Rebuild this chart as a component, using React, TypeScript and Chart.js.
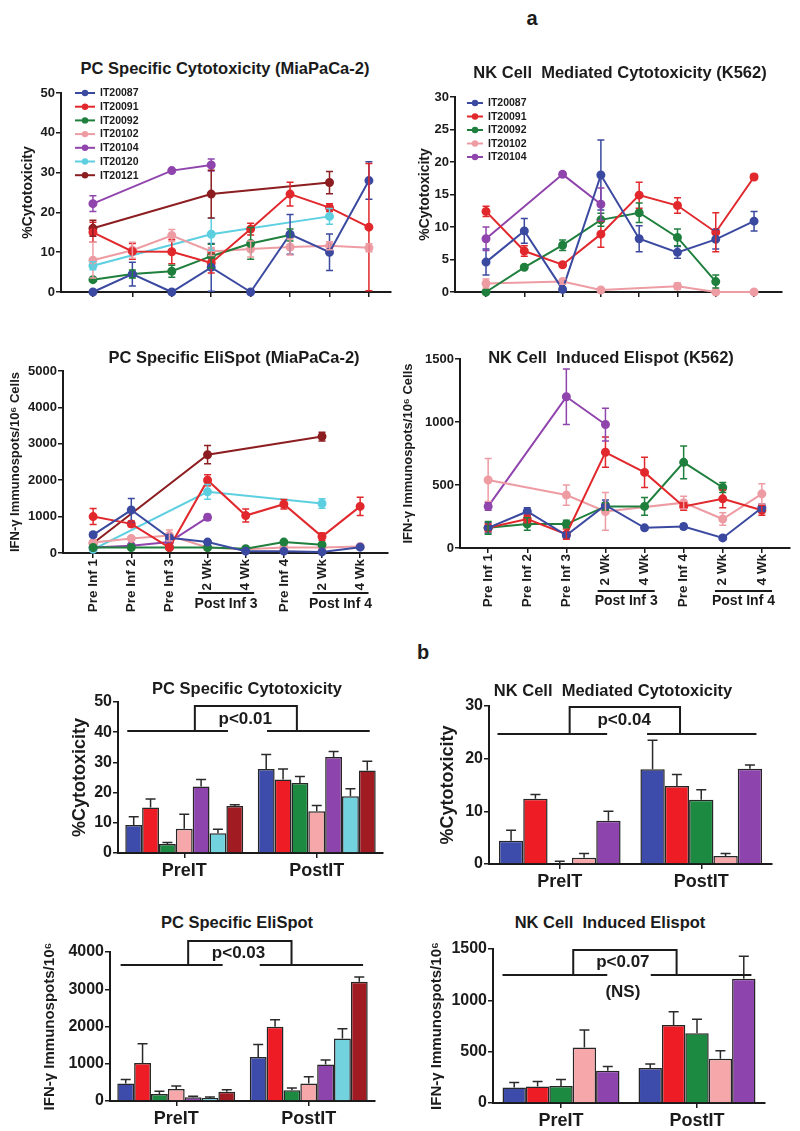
import React, { useEffect, useRef } from 'react';
import { Chart, registerables } from 'chart.js';

Chart.register(...registerables);

const FONT = '"Liberation Sans", Arial, Helvetica, sans-serif';
const INK = '#1b1b1b';

// ---------- categories ----------
const PATIENTS = ['IT20087', 'IT20091', 'IT20092', 'IT20102', 'IT20104', 'IT20120', 'IT20121'];
const LINE_COLORS = ['#3b4aa0', '#e1282c', '#1f7f3d', '#ee9ca3', '#9045ad', '#5ccfe0', '#8c1d20'];
const BAR_COLORS = ['#3d4caa', '#ee1c25', '#1c8a40', '#f5a7aa', '#8e44ad', '#72d3df', '#a11c22'];
const TIME_LABELS = ['Pre Inf 1', 'Pre Inf 2', 'Pre Inf 3', '2 Wk', '4 Wk', 'Pre Inf 4', '2 Wk', '4 Wk'];
const POST_GROUPS = ['Post Inf 3', 'Post Inf 4'];
const GROUPS = ['PreIT', 'PostIT'];

// ---------- (a) PC specific cytotoxicity (MiaPaCa-2), one row per patient ----------
const PC_CYTO_VALUES: (number | null)[][] = [
  [0, 4.5, 0, 6.2, 0, 14.5, 10, 28],
  [15, 10.2, 10.1, 7.3, 15.8, 24.6, 21.2, 16.3],
  [3.1, 4.5, 5.2, 9, 12.2, 14.3, null, null],
  [8, 10.5, 14.2, 10.2, 10.8, 11.3, 11.6, 11.1],
  [22.2, null, 30.5, 31.9, null, null, null, null],
  [6.6, null, null, 14.5, null, null, 19, null],
  [16, null, null, 24.6, null, null, 27.5, null],
];
const PC_CYTO_ERRORS: number[][] = [
  [0, 3, 0, 6, 0, 5, 4.6, 4.7],
  [2.5, 2, 3, 2.5, 1.5, 3, 1, 16],
  [0.3, 1, 1.5, 3, 4, 1.5, 0, 0],
  [4.5, 2, 1.5, 1, 2, 2, 1, 1],
  [2, 0, 0.3, 1.5, 0, 0, 0, 0],
  [1, 0, 0, 4, 0, 0, 2, 0],
  [2, 0, 0, 6, 0, 0, 2.8, 0],
];

// ---------- (a) NK cell mediated cytotoxicity (K562) ----------
const NK_CYTO_VALUES: (number | null)[][] = [
  [4.6, 9.4, 0.4, 18, 8.2, 6.1, 8.1, 10.9],
  [12.4, 6.3, 4.2, 8.9, 14.9, 13.3, 9.2, 17.7],
  [0, 3.8, 7.2, 11.1, 12.2, 8.4, 1.6, null],
  [1.3, null, 1.6, 0.3, null, 0.9, 0, 0],
  [8.2, null, 18.1, 13.5, null, null, null, null],
];
const NK_CYTO_ERRORS: number[][] = [
  [2, 1.9, 0.3, 5.4, 2, 0.9, 1.5, 1.5],
  [0.8, 0.8, 0.3, 2, 2, 1.2, 3, 0.4],
  [0, 0.3, 0.8, 1, 1.5, 1.3, 1, 0],
  [0.7, 0, 0.4, 0.2, 0, 0.5, 0, 0],
  [1.8, 0, 0.4, 2.5, 0, 0, 0, 0],
];

// ---------- (a) PC specific EliSpot (MiaPaCa-2) ----------
const PC_ELI_VALUES: (number | null)[][] = [
  [500, 1180, 420, 300, 50, 50, 30, 160],
  [1000, 800, 150, 2000, 1030, 1340, 450, 1280],
  [150, 150, 150, 150, 120, 300, 230, null],
  [290, 400, 480, 150, 100, 150, 150, 180],
  [150, 200, 300, 980, null, null, null, null],
  [100, null, null, 1680, null, null, 1360, null],
  [270, null, null, 2700, null, null, 3200, null],
];
const PC_ELI_ERRORS: number[][] = [
  [60, 320, 40, 40, 0, 0, 0, 0],
  [220, 80, 30, 150, 180, 130, 100, 250],
  [0, 0, 0, 0, 0, 30, 30, 0],
  [0, 0, 150, 0, 0, 0, 0, 0],
  [0, 0, 0, 80, 0, 0, 0, 0],
  [0, 0, 0, 200, 0, 0, 130, 0],
  [0, 0, 0, 250, 0, 0, 120, 0],
];

// ---------- (a) NK cell induced Elispot (K562) ----------
const NK_ELI_VALUES: (number | null)[][] = [
  [160, 290, 100, 340, 160, 170, 80, 320],
  [160, 230, 110, 760, 600, 330, 390, 300],
  [160, 190, 190, 330, 330, 680, 480, null],
  [540, null, 420, 290, null, 360, 230, 430],
  [330, null, 1200, 980, null, null, null, null],
];
const NK_ELI_ERRORS: number[][] = [
  [40, 30, 20, 40, 15, 20, 15, 30],
  [30, 30, 40, 120, 120, 30, 70, 40],
  [50, 50, 30, 30, 70, 130, 40, 0],
  [170, 0, 80, 150, 0, 50, 50, 80],
  [30, 0, 220, 130, 0, 0, 0, 0],
];

// ---------- (b) summary bars ----------
const PC_CYTO_PRE = [9.3, 15.1, 3, 8, 22, 6.5, 15.6];
const PC_CYTO_PRE_ERR = [2.7, 2.8, 0.5, 4.8, 2.3, 1.4, 0.4];
const PC_CYTO_POST = [27.8, 24.3, 23.2, 13.8, 31.8, 18.8, 27.3];
const PC_CYTO_POST_ERR = [4.8, 3.5, 2.1, 1.9, 1.8, 2.5, 3.1];

const NK_CYTO_PRE = [4.4, 12.4, 0, 1.2, 8.2];
const NK_CYTO_PRE_ERR = [2, 0.8, 0.5, 0.8, 1.8];
const NK_CYTO_POST = [18, 14.8, 12.2, 1.5, 18.1];
const NK_CYTO_POST_ERR = [5.5, 2.2, 1.9, 0.5, 0.7];

const PC_ELI_PRE = [470, 1020, 190, 320, 100, 80, 250];
const PC_ELI_PRE_ERR = [110, 520, 70, 80, 30, 30, 50];
const PC_ELI_POST = [1180, 1990, 290, 470, 980, 1680, 3200];
const PC_ELI_POST_ERR = [340, 190, 60, 180, 120, 260, 130];

const NK_ELI_PRE = [150, 160, 165, 540, 315];
const NK_ELI_PRE_ERR = [50, 50, 65, 170, 40];
const NK_ELI_POST = [340, 760, 680, 430, 1210];
const NK_ELI_POST_ERR = [40, 130, 135, 80, 220];

const P_TEXTS = ['p<0.01', 'p<0.04', 'p<0.03', 'p<0.07'];

// ---------- layout helpers ----------
type Box = { x: number; y: number; w: number; h: number };
type Area = { l: number; t: number; r: number; b: number };

function fitOf(box: Box, area: Area) {
  return {
    padding: { left: 0, top: area.t - box.y, right: box.x + box.w - area.r, bottom: 0 },
    yWidth: area.l - box.x,
    xHeight: box.y + box.h - area.b,
  };
}

const errorBarsPlugin = {
  id: 'errorBars',
  afterDatasetsDraw(chart: any) {
    const ctx = chart.ctx;
    const ys = chart.scales.y;
    chart.data.datasets.forEach((ds: any, di: number) => {
      const meta = chart.getDatasetMeta(di);
      if (!ds.errors) return;
      ctx.save();
      ctx.strokeStyle = ds.errorColor || ds.borderColor;
      ctx.lineWidth = 1.5;
      meta.data.forEach((el: any, j: number) => {
        const e = ds.errors[j];
        const parsed = meta._parsed[j];
        if (!e || !parsed) return;
        const v = parsed.y;
        const cap = ds.errorCap || 3.5;
        const top = ys.getPixelForValue(v + e);
        const bottom = ds.errorUpOnly ? ys.getPixelForValue(v) : ys.getPixelForValue(Math.max(0, v - e));
        ctx.beginPath();
        ctx.moveTo(el.x, top);
        ctx.lineTo(el.x, bottom);
        ctx.moveTo(el.x - cap, top);
        ctx.lineTo(el.x + cap, top);
        if (!ds.errorUpOnly) {
          ctx.moveTo(el.x - cap, bottom);
          ctx.lineTo(el.x + cap, bottom);
        }
        ctx.stroke();
      });
      ctx.restore();
    });
  },
};

function legendPlugin(spec: { dx: number; dy: number; row: number; lineLen: number; font: number }) {
  return {
    id: 'insideLegend',
    afterDraw(chart: any) {
      const ctx = chart.ctx;
      const { left, top } = chart.chartArea;
      chart.data.datasets.forEach((ds: any, i: number) => {
        const y = top + spec.dy + i * spec.row;
        const x0 = left + spec.dx;
        ctx.save();
        ctx.strokeStyle = ds.borderColor;
        ctx.fillStyle = ds.borderColor;
        ctx.lineWidth = 2;
        ctx.beginPath();
        ctx.moveTo(x0, y);
        ctx.lineTo(x0 + spec.lineLen, y);
        ctx.stroke();
        ctx.beginPath();
        ctx.arc(x0 + spec.lineLen / 2, y, 3.2, 0, Math.PI * 2);
        ctx.fill();
        ctx.fillStyle = INK;
        ctx.font = `bold ${spec.font}px ${FONT}`;
        ctx.textAlign = 'left';
        ctx.textBaseline = 'middle';
        ctx.fillText(ds.label, x0 + spec.lineLen + 5, y + 0.5);
        ctx.restore();
      });
    },
  };
}

function postGroupPlugin(spec: { lineOff: number; textOff: number; font: number; pre: number; post: number }) {
  return {
    id: 'postGroups',
    afterDraw(chart: any) {
      const ctx = chart.ctx;
      const xs = chart.scales.x;
      const b = chart.chartArea.bottom;
      const groups = [
        { from: 3, to: 4, text: POST_GROUPS[0] },
        { from: 6, to: 7, text: POST_GROUPS[1] },
      ];
      ctx.save();
      ctx.strokeStyle = INK;
      ctx.fillStyle = INK;
      ctx.lineWidth = 2;
      groups.forEach((g) => {
        const x1 = xs.getPixelForValue(g.from - spec.pre);
        const x2 = xs.getPixelForValue(g.to + spec.post);
        ctx.beginPath();
        ctx.moveTo(x1, b + spec.lineOff);
        ctx.lineTo(x2, b + spec.lineOff);
        ctx.stroke();
        ctx.font = `bold ${spec.font}px ${FONT}`;
        ctx.textAlign = 'center';
        ctx.textBaseline = 'middle';
        ctx.fillText(g.text, (x1 + x2) / 2, b + spec.textOff);
      });
      ctx.restore();
    },
  };
}

function bracketPlugin(spec: {
  lineAt: number; boxTop: number; left: number[]; right: number[]; box: number[];
  text: string; textX: number; textY: number; note?: string; noteY?: number;
}) {
  return {
    id: 'sigBracket',
    afterDraw(chart: any) {
      const ctx = chart.ctx;
      const X = (v: number) => chart.scales.x.getPixelForValue(v);
      const Y = (v: number) => chart.scales.y.getPixelForValue(v);
      const ly = Y(spec.lineAt);
      const by = Y(spec.boxTop);
      ctx.save();
      ctx.strokeStyle = INK;
      ctx.lineWidth = 2;
      ctx.beginPath();
      ctx.moveTo(X(spec.left[0]), ly);
      ctx.lineTo(X(spec.left[1]), ly);
      ctx.moveTo(X(spec.right[0]), ly);
      ctx.lineTo(X(spec.right[1]), ly);
      ctx.moveTo(X(spec.box[0]), ly);
      ctx.lineTo(X(spec.box[0]), by);
      ctx.lineTo(X(spec.box[1]), by);
      ctx.lineTo(X(spec.box[1]), ly);
      ctx.stroke();
      ctx.fillStyle = INK;
      ctx.font = `bold 17px ${FONT}`;
      ctx.textAlign = 'center';
      ctx.textBaseline = 'middle';
      ctx.fillText(spec.text, X(spec.textX), Y(spec.textY));
      if (spec.note) ctx.fillText(spec.note, X(spec.textX), Y(spec.noteY as number));
      ctx.restore();
    },
  };
}

function yAxis(o: {
  max: number; step: number; tickFont: number; title: string; titleSize: number; titleCx: number;
  box: Box; yWidth: number;
}) {
  const lh = o.titleSize * 1.2;
  return {
    min: 0,
    max: o.max,
    afterFit: (s: any) => { s.width = o.yWidth; },
    ticks: {
      stepSize: o.step,
      padding: 1,
      color: INK,
      font: { family: FONT, size: o.tickFont, weight: 'bold' },
      callback: (v: any) => String(v),
    },
    grid: { drawOnChartArea: false, tickLength: 5, color: INK, lineWidth: 1.5 },
    border: { color: INK, width: 2 },
    title: {
      display: true,
      text: o.title,
      color: INK,
      font: { family: FONT, size: o.titleSize, weight: 'bold' },
      padding: { top: Math.max(0, o.titleCx - o.box.x - lh / 2), bottom: 0 },
    },
  };
}

function makeLineConfig(o: {
  box: Box; area: Area; values: (number | null)[][]; errors: number[][];
  xMin: number; xMax: number; xLabels: boolean;
  yMax: number; yStep: number; tickFont: number;
  yTitle: string; yTitleSize: number; yTitleCx: number;
  legend?: { dx: number; dy: number; row: number; lineLen: number; font: number };
  post?: { lineOff: number; textOff: number; font: number; pre: number; post: number };
}) {
  const fit = fitOf(o.box, o.area);
  const datasets = o.values.map((row, i) => {
    const pts: { x: number; y: number }[] = [];
    const errs: number[] = [];
    row.forEach((v, j) => {
      if (v === null) return;
      pts.push({ x: j, y: v });
      errs.push(o.errors[i][j] || 0);
    });
    return {
      label: PATIENTS[i],
      data: pts,
      errors: errs,
      errorCap: 3.5,
      borderColor: LINE_COLORS[i],
      backgroundColor: LINE_COLORS[i],
      pointBackgroundColor: LINE_COLORS[i],
      pointBorderColor: LINE_COLORS[i],
      pointRadius: 3.5,
      borderWidth: 2,
      tension: 0,
      clip: false,
    };
  });
  const plugins: any[] = [errorBarsPlugin];
  if (o.legend) plugins.push(legendPlugin(o.legend));
  if (o.post) plugins.push(postGroupPlugin(o.post));
  return {
    type: 'line',
    data: { datasets },
    options: {
      responsive: false,
      animation: false,
      events: [],
      layout: { padding: fit.padding },
      plugins: { legend: { display: false }, tooltip: { enabled: false } },
      scales: {
        x: {
          type: 'linear',
          min: o.xMin,
          max: o.xMax,
          afterBuildTicks: (s: any) => { s.ticks = TIME_LABELS.map((_, i) => ({ value: i })); },
          afterFit: (s: any) => { s.height = fit.xHeight; },
          ticks: {
            display: o.xLabels,
            autoSkip: false,
            minRotation: 90,
            maxRotation: 90,
            padding: 1,
            color: INK,
            font: { family: FONT, size: 13.5, weight: 'bold' },
            callback: (v: any) => TIME_LABELS[v] ?? '',
          },
          grid: { drawOnChartArea: false, tickLength: 5, color: INK, lineWidth: 1.5 },
          border: { color: INK, width: 2 },
        },
        y: yAxis({
          max: o.yMax, step: o.yStep, tickFont: o.tickFont, title: o.yTitle,
          titleSize: o.yTitleSize, titleCx: o.yTitleCx, box: o.box, yWidth: fit.yWidth,
        }),
      },
    },
    plugins,
  };
}

function makeBarConfig(o: {
  box: Box; area: Area; count: number;
  pre: number[]; preErr: number[]; post: number[]; postErr: number[];
  catPct: number; yMax: number; yStep: number;
  yTitle: string; yTitleSize: number; yTitleCx: number;
  bracket: any;
}) {
  const fit = fitOf(o.box, o.area);
  const datasets = PATIENTS.slice(0, o.count).map((name, i) => ({
    label: name,
    data: [o.pre[i], o.post[i]],
    errors: [o.preErr[i], o.postErr[i]],
    errorUpOnly: true,
    errorCap: 5,
    errorColor: '#2a2a2a',
    backgroundColor: BAR_COLORS[i],
    borderColor: '#262626',
    borderWidth: 1.5,
    categoryPercentage: o.catPct,
    barPercentage: 1,
  }));
  return {
    type: 'bar',
    data: { labels: GROUPS, datasets },
    options: {
      responsive: false,
      animation: false,
      events: [],
      layout: { padding: fit.padding },
      plugins: { legend: { display: false }, tooltip: { enabled: false } },
      scales: {
        x: {
          afterFit: (s: any) => { s.height = fit.xHeight; },
          ticks: { padding: 2, color: INK, font: { family: FONT, size: 18, weight: 'bold' } },
          grid: { drawOnChartArea: false, offset: false, tickLength: 5, color: INK, lineWidth: 1.5 },
          border: { color: INK, width: 2 },
        },
        y: yAxis({
          max: o.yMax, step: o.yStep, tickFont: 16, title: o.yTitle,
          titleSize: o.yTitleSize, titleCx: o.yTitleCx, box: o.box, yWidth: fit.yWidth,
        }),
      },
    },
    plugins: [errorBarsPlugin, bracketPlugin(o.bracket)],
  };
}

// ---------- panel definitions ----------
const BOX = {
  p1: { x: 0, y: 80, w: 400, h: 232 },
  p2: { x: 400, y: 80, w: 400, h: 232 },
  p3: { x: 0, y: 360, w: 400, h: 262 },
  p4: { x: 400, y: 345, w: 400, h: 277 },
  p5: { x: 0, y: 690, w: 400, h: 200 },
  p6: { x: 400, y: 690, w: 400, h: 210 },
  p7: { x: 0, y: 935, w: 400, h: 196 },
  p8: { x: 400, y: 935, w: 400, h: 196 },
};

const PANELS: { box: Box; make: () => any }[] = [
  {
    box: BOX.p1,
    make: () => makeLineConfig({
      box: BOX.p1, area: { l: 61, t: 93, r: 391, b: 292 },
      values: PC_CYTO_VALUES, errors: PC_CYTO_ERRORS,
      xMin: -0.81, xMax: 7.56, xLabels: false,
      yMax: 50, yStep: 10, tickFont: 13,
      yTitle: '%Cytotoxicity', yTitleSize: 14, yTitleCx: 28,
      legend: { dx: 14, dy: 0, row: 13.7, lineLen: 20, font: 10.5 },
    }),
  },
  {
    box: BOX.p2,
    make: () => makeLineConfig({
      box: BOX.p2, area: { l: 455, t: 97, r: 782, b: 292 },
      values: NK_CYTO_VALUES, errors: NK_CYTO_ERRORS,
      xMin: -0.81, xMax: 7.73, xLabels: false,
      yMax: 30, yStep: 5, tickFont: 13,
      yTitle: '%Cytotoxicity', yTitleSize: 14, yTitleCx: 425,
      legend: { dx: 12, dy: 6, row: 13.5, lineLen: 16, font: 10.5 },
    }),
  },
  {
    box: BOX.p3,
    make: () => makeLineConfig({
      box: BOX.p3, area: { l: 63, t: 371, r: 388, b: 553 },
      values: PC_ELI_VALUES, errors: PC_ELI_ERRORS,
      xMin: -0.79, xMax: 7.73, xLabels: true,
      yMax: 5000, yStep: 1000, tickFont: 13,
      yTitle: 'IFN-γ Immunospots/10⁶ Cells', yTitleSize: 13, yTitleCx: 15,
      post: { lineOff: 40, textOff: 51, font: 14, pre: 0.25, post: 0.22 },
    }),
  },
  {
    box: BOX.p4,
    make: () => makeLineConfig({
      box: BOX.p4, area: { l: 460, t: 359, r: 790, b: 548 },
      values: NK_ELI_VALUES, errors: NK_ELI_ERRORS,
      xMin: -0.72, xMax: 7.72, xLabels: true,
      yMax: 1500, yStep: 500, tickFont: 13,
      yTitle: 'IFN-γ Immunospots/10⁶ Cells', yTitleSize: 13, yTitleCx: 408,
      post: { lineOff: 43, textOff: 53, font: 14, pre: 0.2, post: 0.26 },
    }),
  },
  {
    box: BOX.p5,
    make: () => makeBarConfig({
      box: BOX.p5, area: { l: 118, t: 702, r: 383, b: 853 }, count: 7,
      pre: PC_CYTO_PRE, preErr: PC_CYTO_PRE_ERR, post: PC_CYTO_POST, postErr: PC_CYTO_POST_ERR,
      catPct: 0.89, yMax: 50, yStep: 10,
      yTitle: '%Cytotoxicity', yTitleSize: 18, yTitleCx: 80,
      bracket: { lineAt: 40.4, boxTop: 48.7, left: [-0.43, 0.33], right: [0.625, 1.4], box: [0.08, 0.85],
        text: P_TEXTS[0], textX: 0.46, textY: 44.4 },
    }),
  },
  {
    box: BOX.p6,
    make: () => makeBarConfig({
      box: BOX.p6, area: { l: 489, t: 706, r: 772, b: 864 }, count: 5,
      pre: NK_CYTO_PRE, preErr: NK_CYTO_PRE_ERR, post: NK_CYTO_POST, postErr: NK_CYTO_POST_ERR,
      catPct: 0.86, yMax: 30, yStep: 10,
      yTitle: '%Cytotoxicity', yTitleSize: 18, yTitleCx: 448,
      bracket: { lineAt: 24.7, boxTop: 29.8, left: [-0.44, 0.335], right: [0.617, 1.39], box: [0.07, 0.85],
        text: P_TEXTS[1], textX: 0.455, textY: 27.2 },
    }),
  },
  {
    box: BOX.p7,
    make: () => makeBarConfig({
      box: BOX.p7, area: { l: 110, t: 952, r: 375, b: 1101 }, count: 7,
      pre: PC_ELI_PRE, preErr: PC_ELI_PRE_ERR, post: PC_ELI_POST, postErr: PC_ELI_POST_ERR,
      catPct: 0.89, yMax: 4000, yStep: 1000,
      yTitle: 'IFN-γ Immunospots/10⁶', yTitleSize: 15, yTitleCx: 50,
      bracket: { lineAt: 3651, boxTop: 4295, left: [-0.42, 0.35], right: [0.63, 1.41], box: [0.09, 0.87],
        text: P_TEXTS[2], textX: 0.47, textY: 3973 },
    }),
  },
  {
    box: BOX.p8,
    make: () => makeBarConfig({
      box: BOX.p8, area: { l: 493, t: 949, r: 765, b: 1103 }, count: 5,
      pre: NK_ELI_PRE, preErr: NK_ELI_PRE_ERR, post: NK_ELI_POST, postErr: NK_ELI_POST_ERR,
      catPct: 0.86, yMax: 1500, yStep: 500,
      yTitle: 'IFN-γ Immunospots/10⁶', yTitleSize: 15, yTitleCx: 437,
      bracket: { lineAt: 1247, boxTop: 1490, left: [-0.43, 0.34], right: [0.66, 1.4], box: [0.09, 0.85],
        text: P_TEXTS[3], textX: 0.455, textY: 1373, note: '(NS)', noteY: 1081 },
    }),
  },
];

const TITLES: { text: string; cx: number; cy: number; size: number }[] = [
  { text: 'a', cx: 532, cy: 18, size: 20 },
  { text: 'PC Specific Cytotoxicity (MiaPaCa-2)', cx: 225, cy: 68, size: 16.5 },
  { text: 'NK Cell  Mediated Cytotoxicity (K562)', cx: 620, cy: 72, size: 16.5 },
  { text: 'PC Specific EliSpot (MiaPaCa-2)', cx: 234, cy: 357, size: 16.5 },
  { text: 'NK Cell  Induced Elispot (K562)', cx: 611, cy: 357, size: 16.5 },
  { text: 'b', cx: 423, cy: 652, size: 20 },
  { text: 'PC Specific Cytotoxicity', cx: 247, cy: 688, size: 16.5 },
  { text: 'NK Cell  Mediated Cytotoxicity', cx: 613, cy: 690, size: 16.5 },
  { text: 'PC Specific EliSpot', cx: 237, cy: 922, size: 16.5 },
  { text: 'NK Cell  Induced Elispot', cx: 610, cy: 922, size: 16.5 },
];

function ChartPanel({ box, make }: { box: Box; make: () => any }) {
  const ref = useRef<HTMLCanvasElement>(null);
  useEffect(() => {
    if (!ref.current) return;
    const chart = new Chart(ref.current, make());
    return () => chart.destroy();
  }, []);
  return (
    <canvas
      ref={ref}
      width={box.w}
      height={box.h}
      style={{ position: 'absolute', left: box.x, top: box.y, width: box.w, height: box.h, display: 'block' }}
    />
  );
}

export default function App() {
  return (
    <div style={{ position: 'absolute', left: 0, top: 0, width: 800, height: 1131, background: '#fff', overflow: 'hidden' }}>
      {PANELS.map((p, i) => (
        <ChartPanel key={i} box={p.box} make={p.make} />
      ))}
      {TITLES.map((t, i) => (
        <div
          key={i}
          style={{
            position: 'absolute',
            left: t.cx,
            top: t.cy,
            transform: 'translate(-50%, -50%)',
            whiteSpace: 'pre',
            fontFamily: FONT,
            fontWeight: 'bold',
            fontSize: t.size,
            lineHeight: 1,
            color: INK,
          }}
        >
          {t.text}
        </div>
      ))}
    </div>
  );
}
